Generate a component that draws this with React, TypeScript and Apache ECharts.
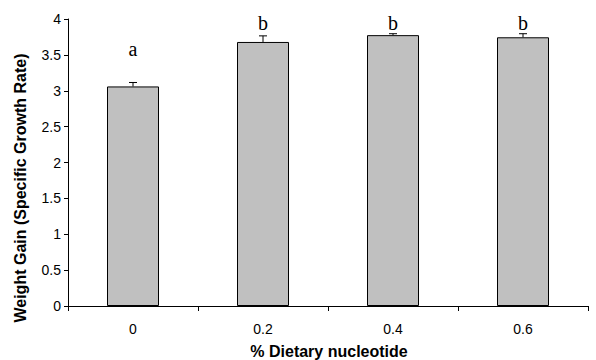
import React, { useEffect, useRef } from "react";
import * as echarts from "echarts";

const categories = ["0", "0.2", "0.4", "0.6"];
const means = [3.06, 3.68, 3.775, 3.745];
const errors = [0.055, 0.085, 0.02, 0.05];
const letters = ["a", "b", "b", "b"];
const letterLevels = [3.58, 3.94, 3.94, 3.94];
const yTicks = { min: 0, max: 4, interval: 0.5 };
const xTitle = "% Dietary nucleotide";
const yTitle = "Weight Gain (Specific Growth Rate)";

export default function App() {
  const ref = useRef<HTMLDivElement>(null);
  useEffect(() => {
    if (!ref.current) return;
    const chart = echarts.init(ref.current, null, { renderer: "svg" });
    chart.setOption({
      animation: false,
      backgroundColor: "#fff",
      grid: { left: 68, right: 8, top: 19, bottom: 54, containLabel: false, outerBoundsMode: "none" },
      graphic: [
        {
          type: "text",
          x: 20,
          y: 188,
          rotation: Math.PI / 2,
          style: {
            text: yTitle,
            font: "bold 16px 'Liberation Sans', Arial, sans-serif",
            fill: "#000",
            align: "center",
            verticalAlign: "middle",
          },
        },
        {
          type: "text",
          x: 329,
          y: 351,
          style: {
            text: xTitle,
            font: "bold 16px 'Liberation Sans', Arial, sans-serif",
            fill: "#000",
            align: "center",
            verticalAlign: "middle",
          },
        },
      ],
      xAxis: {
        type: "category",
        data: categories,
        boundaryGap: true,
        axisLine: { lineStyle: { color: "#000", width: 1 } },
        axisTick: { show: true, alignWithLabel: false, length: 5, lineStyle: { color: "#000" } },
        axisLabel: { fontFamily: "Liberation Sans", fontSize: 14, color: "#000", margin: 16 },
      },
      yAxis: {
        type: "value",
        min: yTicks.min,
        max: yTicks.max,
        interval: yTicks.interval,
        axisLine: { show: true, lineStyle: { color: "#000", width: 1 } },
        axisTick: { show: true, length: 4, lineStyle: { color: "#000" } },
        splitLine: { show: false },
        axisLabel: { fontFamily: "Liberation Sans", fontSize: 14, color: "#000", margin: 7 },
      },
      series: [
        {
          type: "bar",
          data: means,
          barWidth: "40%",
          itemStyle: { color: "#c0c0c0", borderColor: "#000", borderWidth: 1 },
        },
        {
          type: "custom",
          data: means.map((m, i) => [i, m, errors[i]]),
          renderItem: (params: any, api: any) => {
            const i = api.value(0);
            const m = api.value(1);
            const e = api.value(2);
            const base = api.coord([i, m]);
            const top = api.coord([i, m + e]);
            return {
              type: "group",
              children: [
                {
                  type: "line",
                  shape: { x1: base[0], y1: base[1], x2: top[0], y2: top[1] },
                  style: { stroke: "#000", lineWidth: 1 },
                },
                {
                  type: "line",
                  shape: { x1: top[0] - 4, y1: top[1], x2: top[0] + 4, y2: top[1] },
                  style: { stroke: "#000", lineWidth: 1 },
                },
              ],
            };
          },
          z: 5,
        },
        {
          type: "custom",
          data: letterLevels.map((l, i) => [i, l]),
          renderItem: (params: any, api: any) => {
            const i = api.value(0);
            const p = api.coord([i, api.value(1)]);
            return {
              type: "text",
              x: p[0],
              y: p[1],
              style: {
                text: letters[params.dataIndex],
                font: "20px 'Liberation Serif', 'Times New Roman', serif",
                fill: "#000",
                align: "center",
                verticalAlign: "middle",
              },
            };
          },
          z: 6,
        },
      ],
    });
    return () => chart.dispose();
  }, []);
  return (
    <div
      ref={ref}
      style={{ position: "absolute", left: 0, top: 0, width: 596, height: 360 }}
    />
  );
}
